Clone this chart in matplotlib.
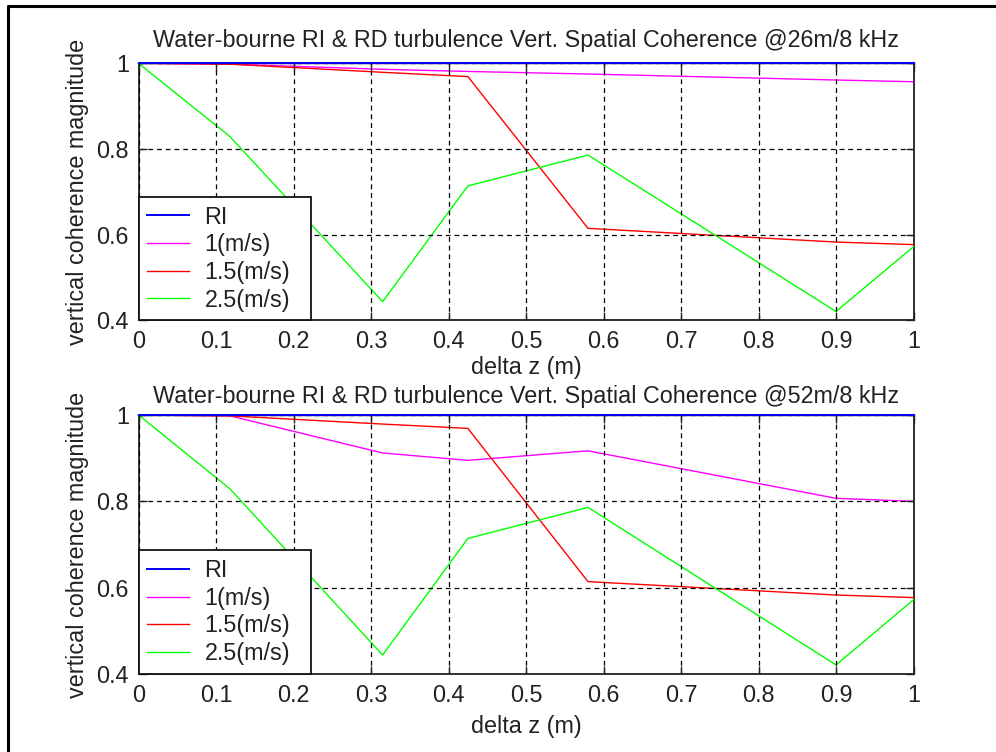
import matplotlib
matplotlib.use("Agg")
import matplotlib.pyplot as plt
from matplotlib.lines import Line2D

plt.rcParams['font.family'] = ['Liberation Sans', 'DejaVu Sans']
plt.rcParams['lines.scale_dashes'] = False

# ---- data ----
delta_z = [0.0, 0.118, 0.315, 0.425, 0.58, 0.9, 1.0]
labels = ["RI", "1(m/s)", "1.5(m/s)", "2.5(m/s)"]
colors = ["#0000ff", "#ff00ff", "#ff0000", "#00ff00"]

top_ri = [1.0, 1.0, 1.0, 1.0, 1.0, 1.0, 1.0]
top_v1 = [1.0, 0.998, 0.986, 0.981, 0.975, 0.961, 0.957]
top_v15 = [1.0, 0.998, 0.979, 0.969, 0.615, 0.583, 0.577]
top_v25 = [1.0, 0.829, 0.444, 0.714, 0.786, 0.421, 0.572]

bot_ri = [1.0, 1.0, 1.0, 1.0, 1.0, 1.0, 1.0]
bot_v1 = [1.0, 0.998, 0.912, 0.895, 0.917, 0.807, 0.800]
bot_v15 = [1.0, 0.998, 0.979, 0.969, 0.614, 0.583, 0.577]
bot_v25 = [1.0, 0.829, 0.444, 0.714, 0.786, 0.421, 0.572]

titles = ["Water-bourne RI & RD turbulence Vert. Spatial Coherence @26m/8 kHz",
          "Water-bourne RI & RD turbulence Vert. Spatial Coherence @52m/8 kHz"]
xlabel = "delta z (m)"
ylabel = "vertical coherence magnitude"
xticks = [0, 0.1, 0.2, 0.3, 0.4, 0.5, 0.6, 0.7, 0.8, 0.9, 1.0]
xticklabels = ["0", "0.1", "0.2", "0.3", "0.4", "0.5", "0.6", "0.7", "0.8", "0.9", "1"]
yticks = [0.4, 0.6, 0.8, 1.0]
yticklabels = ["0.4", "0.6", "0.8", "1"]

W, H = 996, 752
fig = plt.figure(figsize=(W / 100, H / 100), dpi=100)
fig.patch.set_facecolor('white')

# outer frame (left and top visible)
fig.add_artist(Line2D([8 / W, 8 / W, 1.0], [0.0, 1 - 6 / H, 1 - 6 / H],
                      transform=fig.transFigure, color='black', lw=2.2))

fs = 16.8
txtc = '#222222'
axes_px = [(63.3, 320.5), (415.0, 674.0)]
title_pads = [12, 9]
xlabel_pads = [2, 6]
line_z = [4.2, 3, 3, 3]
line_w = [1.4, 1.0, 1.0, 1.0]
series_sets = [[top_ri, top_v1, top_v15, top_v25], [bot_ri, bot_v1, bot_v15, bot_v25]]

for i, ((ytop, ybot), series) in enumerate(zip(axes_px, series_sets)):
    ax = fig.add_axes([138.5 / W, 1 - ybot / H, 775 / W, (ybot - ytop) / H])
    for s, c, lab, z, lw in zip(series, colors, labels, line_z, line_w):
        ax.plot(delta_z, s, color=c, lw=lw, label=lab, zorder=z, clip_on=False)
    ax.set_xlim(0, 1)
    ax.set_ylim(0.4, 1.0)
    ax.set_xticks(xticks)
    ax.set_xticklabels(xticklabels)
    ax.set_yticks(yticks)
    ax.set_yticklabels(yticklabels)
    ax.tick_params(direction='in', length=6, width=1.0, top=True, right=True,
                   labelsize=fs, labelcolor=txtc, color='#222222', pad=7)
    ax.grid(True, color='black', linestyle=(0, (3.5, 2.8)), lw=0.9)
    ax.xaxis.set_zorder(3.5)
    ax.yaxis.set_zorder(3.5)
    for sp in ax.spines.values():
        sp.set_linewidth(1.3)
        sp.set_color('#222222')
    ax.spines['top'].set_linewidth(1.0)
    ax.set_title(titles[i], fontsize=fs, color=txtc, pad=title_pads[i])
    ax.set_xlabel(xlabel, fontsize=fs, color=txtc, labelpad=xlabel_pads[i])
    ax.set_ylabel(ylabel, fontsize=fs, color=txtc, labelpad=5)
    leg = ax.legend(loc='lower left', bbox_to_anchor=(0, 0, 172 / 775, 0.45),
                    mode='expand', borderaxespad=0,
                    fancybox=False, framealpha=1, edgecolor='#111111',
                    fontsize=fs, handlelength=1.8, handletextpad=0.65,
                    labelspacing=0.2, borderpad=0.38)
    leg.get_frame().set_linewidth(1.3)
    for t in leg.get_texts():
        t.set_color(txtc)
    leg.set_zorder(5)

fig.savefig("out.png", dpi=100)
